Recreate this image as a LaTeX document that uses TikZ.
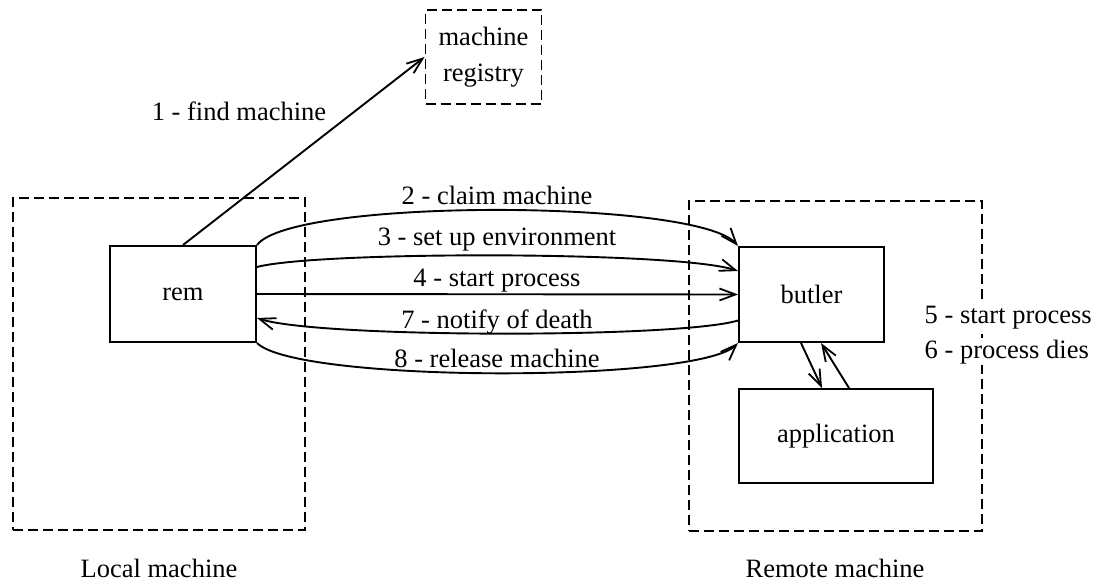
\documentclass[tikz,border=0pt]{standalone}
\usepackage{fontspec}
\setmainfont{Liberation Serif}
\usetikzlibrary{arrows.meta,calc}

\begin{document}
\begin{tikzpicture}[x=1pt,y=-1pt,
  every node/.style={font=\fontsize{26.5}{36}\selectfont},
  solidbox/.style={draw,line width=2pt,inner sep=0pt},
  machinebox/.style={draw,line width=1.8pt,dash pattern=on 10pt off 5pt,inner sep=0pt},
  msg/.style={line width=1.9pt,-{Straight Barb[length=16pt,width=12pt,line width=1.8pt]}},
  lbl/.style={inner sep=0pt,anchor=base}]
\useasboundingbox (0,0) rectangle (1097,583);

% machines (dashed outlines)
\node[machinebox,minimum width=292pt,minimum height=332pt] (local) at (159,364) {};
\node[machinebox,minimum width=293pt,minimum height=330pt] (remote) at (835.5,366) {};
\node[machinebox,minimum width=116pt,minimum height=94pt,align=center] (registry) at (483.5,57) {machine\\registry};

% processes
\node[solidbox,minimum width=146pt,minimum height=96pt] (rem) at (183,294) {rem};
\node[solidbox,minimum width=145pt,minimum height=95pt] (butler) at (811.5,294.5) {butler};
\node[solidbox,minimum width=194pt,minimum height=94pt] (app) at (836,436) {application};

% machine captions
\node (localcap) at (159,568) {Local machine};
\node (remotecap) at (835,568) {Remote machine};

% 1 - find machine
\draw[msg] (rem.north) -- (registry.west);
\node[lbl] (l1) at (239,121) {1 - find machine};

% rem <-> butler protocol
\draw[msg] (rem.north east) .. controls +(35,-47) and +(-40,-47) .. (butler.north west);
\draw[msg] ($(rem.north east)+(0,22)$) .. controls +(60,-16) and +(-60,-20) .. ($(butler.north west)+(0,25)$);
\draw[msg] (rem.east) -- (butler.west);
\draw[msg] ($(butler.west)+(0,26)$) .. controls +(-60,18) and +(60,20) .. ($(rem.east)+(0,24)$);
\draw[msg] (rem.south east) .. controls +(40,40) and +(-40,40) .. (butler.south west);

\node[lbl] (l2) at (497,204) {2 - claim machine};
\node[lbl] (l3) at (497,245) {3 - set up environment};
\node[lbl] (l4) at (497,286) {4 - start process};
\node[lbl] (l7) at (497,328) {7 - notify of death};
\node[lbl] (l8) at (497,367) {8 - release machine};

% butler <-> application
\draw[msg] ($(butler.south west)+(63,0)$) -- ($(app.north west)+(84,0)$);
\draw[msg] ($(app.north west)+(111,0)$) -- ($(butler.south west)+(83,0)$);

\node[lbl,anchor=base west,fill=white,inner sep=1.5pt] (l5) at (923,323) {5 - start process};
\node[lbl,anchor=base west,fill=white,inner sep=1.5pt] (l6) at (923,358) {6 - process dies};
\end{tikzpicture}
\end{document}
